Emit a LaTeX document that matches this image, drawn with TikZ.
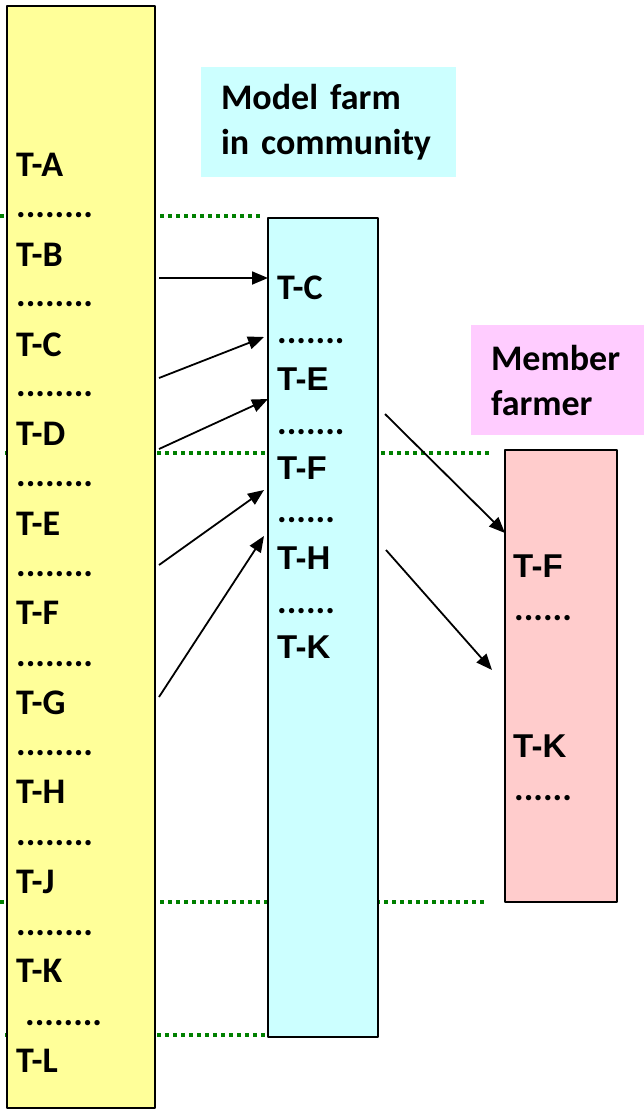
\documentclass[tikz,border=0pt]{standalone}
\usepackage{fontspec}
\setmainfont{Carlito}
\newfontfamily\arialfont{Liberation Sans}
\usetikzlibrary{arrows.meta}
\definecolor{paleyellow}{HTML}{FFFF99}
\definecolor{palecyan}{HTML}{CCFFFF}
\definecolor{palepink}{HTML}{FFCCCC}
\definecolor{lilac}{HTML}{FFCCFF}
\definecolor{dotgreen}{HTML}{008000}
\begin{document}
\begin{tikzpicture}[x=1pt, y=-1pt, font=\bfseries\fontsize{36}{45}\selectfont, line join=round, >={Triangle[length=16pt,width=13pt]},
  lbl/.style={anchor=base west, inner sep=0pt},
  arial/.style={font=\arialfont\bfseries\fontsize{33}{40}\selectfont},
  column/.style={draw, line width=1.6pt, anchor=north west, inner sep=0pt, outer sep=0pt},
  tag/.style={anchor=north west, inner ysep=0pt, inner xsep=20pt, align=left, outer sep=0pt},
  sep/.style={dotgreen, line width=3.6pt, dash pattern=on 3.6pt off 4.4pt},
  link/.style={->, line width=1.8pt}]
\useasboundingbox (0,0) rectangle (644,1110);
% dotted green separators (behind the columns)
\draw[sep] (0,216) -- (262,216);
\draw[sep] (5,453) -- (492,453);
\draw[sep] (0,902) -- (486,902);
\draw[sep] (5,1035) -- (268,1035);
% columns
\node[column, fill=paleyellow, minimum width=148, minimum height=1102] (topics) at (7,6) {};
\node[column, fill=palecyan, minimum width=110, minimum height=819] (farm) at (268,218) {};
\node[column, fill=palepink, minimum width=112, minimum height=452] (member) at (505,450) {};
% titles
\node[tag, fill=palecyan, text width=215, minimum height=110] (farmtag) at (201,67) {Model farm\\in community};
\node[tag, fill=lilac, text width=133, minimum height=110] (membertag) at (471,325) {Member\\farmer};
% topic list
\foreach \t [count=\i from 0] in {A,B,C,D,E,F,G,H,J,K,L}
  \node[lbl] (topic\t) at (16,{177+89.5*\i}) {T-\t};
\foreach \i in {0,...,8}
  \node[lbl] (gap\i) at (16,{217+89.8*\i}) {........};
\node[lbl] (gap9) at (25,1025) {........};
% model farm list
\node[lbl] (farmC) at (277,299) {T-C};
\node[lbl] (farmgap1) at (277,343) {.......};
\node[lbl, arial] (farmE) at (277,390) {\arialfont T-E};
\node[lbl] (farmgap2) at (277,434) {.......};
\node[lbl, arial] (farmF) at (277,479) {\arialfont T-F};
\node[lbl] (farmgap3) at (277,522) {......};
\node[lbl, arial] (farmH) at (277,569) {\arialfont T-H};
\node[lbl] (farmgap4) at (277,613) {......};
\node[lbl, arial] (farmK) at (277,658) {\arialfont T-K};
% member farmer list
\node[lbl, arial] (memberF) at (513,577) {\arialfont T-F};
\node[lbl] (membergap1) at (514,620) {......};
\node[lbl, arial] (memberK) at (513,757) {\arialfont T-K};
\node[lbl] (membergap2) at (514,800) {......};
% arrows
\foreach \n/\xa/\ya/\xb/\yb in {1/159/278/268/278, 2/159/378/264/337, 3/159/449/268/399, 4/159/565/264/490, 5/159/697/264/536, 6/385/414/505/533, 7/386/550/492/670} {
  \coordinate (from\n) at (\xa,\ya);
  \coordinate (to\n) at (\xb,\yb);
  \draw[link] (from\n) -- (to\n);
}
\end{tikzpicture}
\end{document}
